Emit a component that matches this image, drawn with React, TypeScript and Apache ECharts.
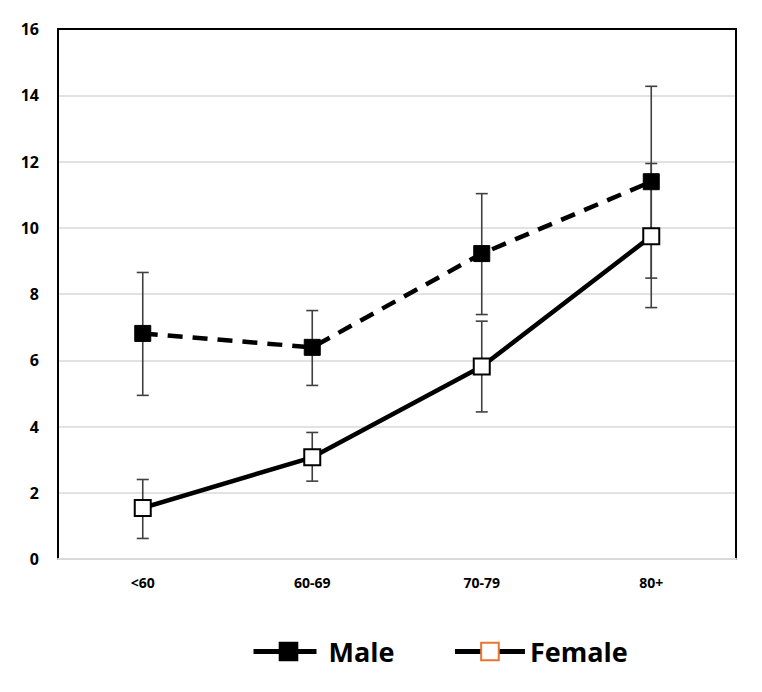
import React, { useEffect, useRef } from "react";
import * as echarts from "echarts";

const categories = ["<60", "60-69", "70-79", "80+"];
const maleValues = [6.81, 6.39, 9.22, 11.39];
const maleLow = [4.94, 5.24, 7.38, 8.48];
const maleHigh = [8.65, 7.5, 11.03, 14.27];
const femaleValues = [1.54, 3.07, 5.81, 9.74];
const femaleLow = [0.62, 2.35, 4.44, 7.59];
const femaleHigh = [2.4, 3.82, 7.18, 11.94];
const yTicks = { min: 0, max: 16, interval: 2 };

const FONT = "'Open Sans', 'Noto Sans', sans-serif";

function errorSeries(name: string, low: number[], high: number[]) {
  return {
    type: "custom",
    name,
    silent: true,
    z: 1,
    data: low.map((l, i) => [i, l, high[i]]),
    encode: { x: 0, y: [1, 2] },
    renderItem: (params: any, api: any) => {
      const x = api.value(0);
      const lo = api.coord([x, api.value(1)]);
      const hi = api.coord([x, api.value(2)]);
      const cap = 6;
      const style = { stroke: "#404040", lineWidth: 1.6 };
      return {
        type: "group",
        children: [
          { type: "line", shape: { x1: lo[0], y1: lo[1], x2: hi[0], y2: hi[1] }, style },
          { type: "line", shape: { x1: lo[0] - cap, y1: lo[1], x2: lo[0] + cap, y2: lo[1] }, style },
          { type: "line", shape: { x1: hi[0] - cap, y1: hi[1], x2: hi[0] + cap, y2: hi[1] }, style },
        ],
      };
    },
  };
}

export default function App() {
  const ref = useRef<HTMLDivElement>(null);
  useEffect(() => {
    if (!ref.current) return;
    const chart = echarts.init(ref.current, undefined, { renderer: "svg" });
    chart.setOption({
      animation: false,
      backgroundColor: "#ffffff",
      grid: { left: 50, right: 18, top: 21, bottom: 125 },
      legend: {
        left: 238,
        top: 625,
        itemWidth: 70,
        itemHeight: 22,
        itemGap: 58,
        textStyle: { fontFamily: FONT, fontWeight: "bold", fontSize: 27, color: "#000" },
        data: [
          { name: "Male", lineStyle: { type: [63, 20], width: 5 } },
          { name: "Female", lineStyle: { width: 5 }, itemStyle: { borderColor: "#E8762D", color: "#fff", borderWidth: 2 } },
        ],
      },
      xAxis: [
        {
          type: "category",
          data: categories,
          position: "bottom",
          axisLine: { show: true, lineStyle: { color: "#d9d9d9", width: 2 } },
          axisTick: { show: false },
          axisLabel: { fontFamily: FONT, fontWeight: "bold", fontSize: 14, color: "#000", margin: 16 },
        },
        {
          type: "category",
          data: categories,
          position: "top",
          axisLine: { show: true, onZero: false, lineStyle: { color: "#000", width: 2 } },
          axisTick: { show: false },
          axisLabel: { show: false },
        },
      ],
      yAxis: [
        {
          type: "value",
          min: yTicks.min,
          max: yTicks.max,
          interval: yTicks.interval,
          axisLine: { show: true, lineStyle: { color: "#000", width: 2 } },
          axisTick: { show: false },
          splitLine: { lineStyle: { color: "#d9d9d9", width: 1.5 } },
          axisLabel: { fontFamily: FONT, fontWeight: "bold", fontSize: 16, color: "#000", margin: 19 },
        },
        {
          type: "value",
          min: yTicks.min,
          max: yTicks.max,
          interval: yTicks.interval,
          position: "right",
          axisLine: { show: true, onZero: false, lineStyle: { color: "#000", width: 2 } },
          axisTick: { show: false },
          splitLine: { show: false },
          axisLabel: { show: false },
        },
      ],
      series: [
        errorSeries("maleErr", maleLow, maleHigh),
        errorSeries("femaleErr", femaleLow, femaleHigh),
        {
          type: "line",
          name: "Female",
          data: femaleValues,
          z: 3,
          symbol: "rect",
          symbolSize: 16,
          lineStyle: { color: "#000", width: 4.5 },
          itemStyle: { color: "#fff", borderColor: "#000", borderWidth: 2 },
        },
        {
          type: "line",
          name: "Male",
          data: maleValues,
          z: 4,
          symbol: "rect",
          symbolSize: 16,
          lineStyle: { color: "#000", width: 4.5, type: [15, 10] },
          itemStyle: { color: "#000", borderColor: "#000", borderWidth: 1 },
        },
      ],
    });
    return () => chart.dispose();
  }, []);
  return <div ref={ref} style={{ width: 746, height: 676 }} />;
}
